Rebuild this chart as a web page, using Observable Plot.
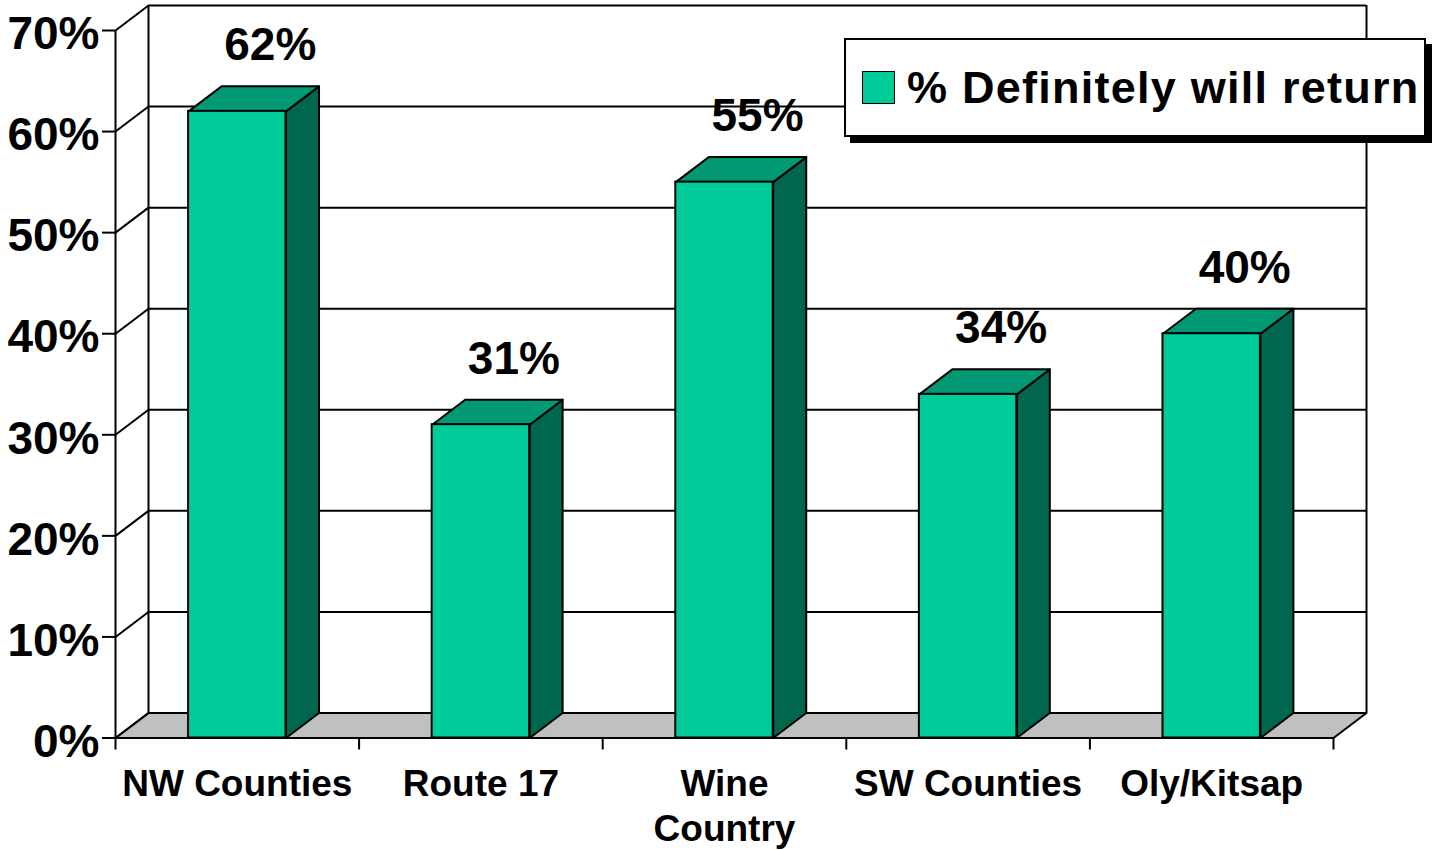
<!DOCTYPE html>
<html>
<head>
<meta charset="utf-8">
<script src="https://cdn.jsdelivr.net/npm/d3@7"></script>
<script src="https://cdn.jsdelivr.net/npm/@observablehq/plot@0.6"></script>
<style>
  html, body { margin: 0; padding: 0; background: #fff; }
  #wrap { position: relative; width: 1433px; height: 850px; font-family: "Liberation Sans", Arial, sans-serif; }
  #wrap svg { position: absolute; left: 0; top: 0; }
  #legend {
    position: absolute; left: 844px; top: 38px; width: 578px; height: 95px;
    border: 2px solid #000; background: #fff; box-shadow: 6px 6px 0 #000;
    display: flex; align-items: center; box-sizing: content-box;
  }
  #legend .sw { width: 31px; height: 31px; border: 1px solid #000; margin-left: 16px; margin-right: 12px; flex: none; }
  #legend .lb { font-size: 45px; font-weight: bold; color: #000; white-space: nowrap; line-height: 1; letter-spacing: 1.25px; }
</style>
</head>
<body>
<div id="wrap"></div>
<script>
// ---- data ----
const categories = ["NW Counties", "Route 17", "Wine\nCountry", "SW Counties", "Oly/Kitsap"];
const values = [0.62, 0.31, 0.55, 0.34, 0.40];
const yTicks = [0, 0.1, 0.2, 0.3, 0.4, 0.5, 0.6, 0.7];
const seriesName = "% Definitely will return";

// ---- style / geometry constants ----
const FRONT = "#00CC99", TOP = "#009973", SIDE = "#00664D", FLOOR = "#C0C0C0";
const BAR_LO = 0.3, BAR_HI = 0.7;          // bar occupies 40% of each category band
const DX = 33 / 243.6;                     // oblique depth, in category units
const DY = 25 / (707.5 / 0.7);             // oblique depth, in value units
const N = categories.length;
const fmt = d3.format(".0%");

// polygons derived from the data
const floor = [[0, 0], [N, 0], [N + DX, DY], [DX, DY]].map(([x, y]) => ({x, y}));
const sides = [], tops = [];
values.forEach((v, i) => {
  const x0 = i + BAR_LO, x1 = i + BAR_HI;
  [[x1, 0], [x1, v], [x1 + DX, v + DY], [x1 + DX, DY]].forEach(([x, y]) => sides.push({id: i, x, y}));
  [[x0, v], [x1, v], [x1 + DX, v + DY], [x0 + DX, v + DY]].forEach(([x, y]) => tops.push({id: i, x, y}));
});

const chart = Plot.plot({
  width: 1433,
  height: 850,
  marginLeft: 115,
  marginRight: 100,
  marginTop: 30,
  marginBottom: 112.5,
  style: {fontFamily: "'Liberation Sans', Arial, sans-serif", background: "transparent", overflow: "visible", color: "#000"},
  x: {domain: [0, N], label: null},
  y: {domain: [0, 0.7], label: null},
  marks: [
    // floor
    Plot.line(floor, {x: "x", y: "y", curve: "linear-closed", fill: FLOOR, stroke: "#000", strokeWidth: 2}),
    // back wall gridlines
    Plot.ruleY(yTicks.slice(1), {x1: DX, x2: N + DX, y: d => d + DY, stroke: "#000", strokeWidth: 2}),
    // back wall verticals
    Plot.ruleX([DX, N + DX], {y1: DY, y2: 0.7 + DY, stroke: "#000", strokeWidth: 2}),
    // side wall diagonals
    Plot.link(yTicks, {x1: 0, y1: d => d, x2: DX, y2: d => d + DY, stroke: "#000", strokeWidth: 2}),
    // front value axis line
    Plot.ruleX([0], {y1: 0, y2: 0.7, stroke: "#000", strokeWidth: 2}),
    // bars
    Plot.line(sides, {x: "x", y: "y", z: "id", curve: "linear-closed", fill: SIDE, stroke: "#000", strokeWidth: 2, strokeLinejoin: "round"}),
    Plot.line(tops, {x: "x", y: "y", z: "id", curve: "linear-closed", fill: TOP, stroke: "#000", strokeWidth: 2, strokeLinejoin: "round"}),
    Plot.rect(values, {x1: (d, i) => i + BAR_LO, x2: (d, i) => i + BAR_HI, y1: 0, y2: d => d, fill: FRONT, stroke: "#000", strokeWidth: 2}),
    // value labels
    Plot.text(values, {x: (d, i) => i + 0.5 + DX, y: d => d + DY, text: d => fmt(d), lineAnchor: "bottom", dy: -26, fontSize: 46, fontWeight: "bold", fill: "#000"}),
    // axes
    Plot.axisY(yTicks, {tickSize: 13, fill: "none", strokeWidth: 2, label: null}),
    Plot.axisY(yTicks, {tickSize: 13, tickPadding: 3, stroke: "none", tickFormat: fmt, fontSize: 46, fontWeight: "bold", dy: 4, label: null}),
    Plot.axisX(d3.range(N + 1), {tickSize: 12, fill: "none", strokeWidth: 2, label: null}),
    // category labels
    Plot.text(categories, {x: (d, i) => i + 0.5, y: 0, text: d => d, lineAnchor: "top", lineHeight: 1.24, dy: 25, fontSize: 37, fontWeight: "bold", fill: "#000"})
  ]
});

const wrap = document.getElementById("wrap");
wrap.appendChild(chart);
const legend = document.createElement("div");
legend.id = "legend";
legend.innerHTML = `<div class="sw" style="background:${FRONT}"></div><div class="lb"></div>`;
legend.querySelector(".lb").textContent = seriesName;
wrap.appendChild(legend);
</script>
</body>
</html>
